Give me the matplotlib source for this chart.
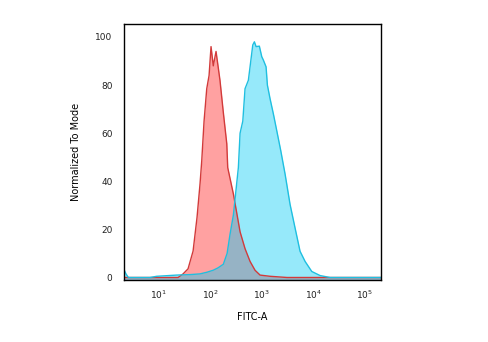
import numpy as np
import matplotlib
matplotlib.use("Agg")
import matplotlib.pyplot as plt
from matplotlib.ticker import LogFormatterMathtext, NullLocator

# Isotype control histogram (FITC-A intensity, % of mode)
iso_fitc = [2.2, 15, 23.9, 29.9, 37.3, 46.7, 55.7, 63.7, 68.7, 76.2, 85.9, 95.3,
            104, 115, 130, 155, 180, 210, 219, 282, 380, 474, 593, 741, 927,
            1445, 3090, 2.0e5]
iso_mode = [0, 0, 0, 1.5, 3.6, 11, 25, 39, 48.5, 65, 78.5, 84,
            96, 88, 94, 82, 68.6, 55.6, 45.7, 34.7, 19, 12, 6.7, 3, 1,
            0.5, 0, 0]

# Stained sample histogram
stain_fitc = [2.17, 2.34, 2.6, 6.8, 9.2, 22.5, 40.7, 63.7, 87, 114, 142, 180,
              213, 243, 282, 352, 380, 429, 474, 550, 593, 670, 720, 776, 898,
              1000, 1074, 1211, 1285, 1449, 1679, 1954, 2335, 2830, 3534, 4416,
              5520, 6900, 9310, 13500, 21100, 2.0e5]
stain_mode = [3, 1.5, 0, 0, 0.5, 1, 1.2, 1.5, 2.2, 3, 4, 5.5,
              10, 18, 26, 45.7, 60, 65, 78.5, 82, 87.6, 96.7, 98, 96, 96.2,
              91.8, 90.4, 87.6, 80, 74.3, 68, 61, 52.7, 43, 30.4, 20.6,
              10.9, 6.7, 2.5, 0.8, 0, 0]

x_ticks = [10, 100, 1000, 1e4, 1e5]
y_ticks = [0, 20, 40, 60, 80, 100]

fig = plt.figure(figsize=(4.88, 3.42), dpi=100)
ax = fig.add_axes([0.2547, 0.1813, 0.5253, 0.7485])

ax.fill_between(iso_fitc, iso_mode, -5, color=(1.0, 0.0, 0.0), alpha=0.37, lw=0)
ax.plot(iso_fitc, iso_mode, color="#d23a3a", lw=1.0)
ax.fill_between(stain_fitc, stain_mode, -5, color=(0.05, 0.80, 0.96), alpha=0.43, lw=0)
ax.plot(stain_fitc, stain_mode, color="#1fbfe0", lw=1.0)

ax.set_xscale("log")
ax.set_xlim(2.17, 2.01e5)
ax.set_ylim(-1.04, 105.4)

ax.set_xticks(x_ticks)
ax.xaxis.set_major_formatter(LogFormatterMathtext())
ax.xaxis.set_minor_locator(NullLocator())
ax.set_yticks(y_ticks)

ax.tick_params(axis="both", length=0, labelsize=6.5, colors="#222222")
ax.tick_params(axis="y", pad=8.5)
ax.tick_params(axis="x", pad=6.5)

for s in ax.spines.values():
    s.set_linewidth(1.0)
    s.set_color("black")

ax.set_xlabel("FITC-A", fontsize=7, labelpad=7.5)
ax.set_ylabel("Normalized To Mode", fontsize=7, labelpad=10)

fig.savefig("out.png", dpi=100)
